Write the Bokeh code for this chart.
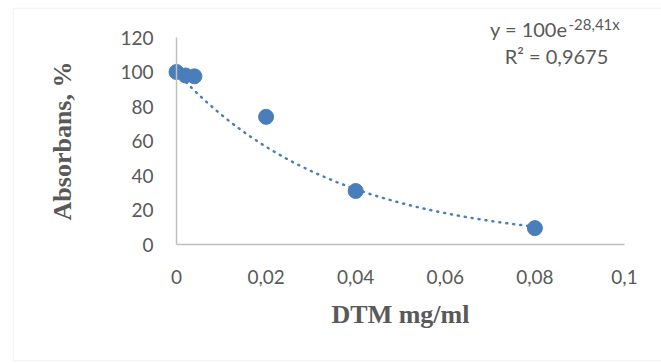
import numpy as np
from bokeh.plotting import figure
from bokeh.models import Range1d, FixedTicker, Label, BoxAnnotation
from bokeh.embed import file_html
from bokeh.resources import INLINE

# data
dtm = [0, 0.002, 0.004, 0.02, 0.04, 0.08]
absorbans = [100, 98, 97.5, 74, 31, 9.5]
x_ticks = [0, 0.02, 0.04, 0.06, 0.08, 0.1]
x_tick_labels = ["0", "0,02", "0,04", "0,06", "0,08", "0,1"]
y_ticks = [0, 20, 40, 60, 80, 100, 120]
fit_a = 100.0
fit_b = -28.41
eq_main = "y = 100e"
eq_sup = "-28,41x"
r2_text = "R² = 0,9675"

BLUE = "#4a7ebb"
GREY_TXT = "#595959"
AXIS = "#bfbfbf"

# layout geometry (pixels)
W, H = 661, 363
F_LEFT, F_TOP, F_RIGHT, F_BOTTOM = 12, 7, 661, 361     # outer chart area (frame)
X0_PX, X1_PX = 176, 624                               # plot area x=0 .. x=0.1
Y0_PX, Y1_PX = 244, 37                                # plot area y=0 .. y=120
kx = (X1_PX - X0_PX) / (x_ticks[-1] - x_ticks[0])
ky = (Y0_PX - Y1_PX) / (y_ticks[-1] - y_ticks[0])

x_start = x_ticks[0] - (X0_PX - F_LEFT) / kx
x_end = x_ticks[0] + (F_RIGHT - X0_PX) / kx
y_start = y_ticks[0] - (F_BOTTOM - Y0_PX) / ky
y_end = y_ticks[-1] + (Y1_PX - F_TOP) / ky

def dx(px):
    return x_ticks[0] + (px - X0_PX) / kx

def dy(py):
    return y_ticks[0] + (Y0_PX - py) / ky

p = figure(width=W, height=H, output_backend="svg", toolbar_location=None,
           x_range=Range1d(x_start, x_end), y_range=Range1d(y_start, y_end),
           min_border_left=F_LEFT, min_border_right=W - F_RIGHT,
           min_border_top=F_TOP, min_border_bottom=H - F_BOTTOM)
p.outline_line_color = None
p.grid.visible = False
p.background_fill_color = "white"
p.border_fill_color = "white"

# axes
for ax in (p.xaxis[0], p.yaxis[0]):
    ax.fixed_location = 0
    ax.axis_line_color = AXIS
    ax.axis_line_width = 1.5
    ax.major_tick_line_color = None
    ax.minor_tick_line_color = None
    ax.major_tick_out = 0
    ax.major_tick_in = 0
    ax.minor_tick_out = 0
    ax.major_label_text_color = GREY_TXT
    ax.major_label_text_font = "Lato"
    ax.major_label_text_font_size = "19px"
    ax.axis_label_text_color = GREY_TXT
    ax.axis_label_text_font = "Liberation Serif"
    ax.axis_label_text_font_style = "bold"
    ax.axis_label_text_font_size = "26px"

p.xaxis.bounds = (x_ticks[0], x_ticks[-1])
p.xaxis.ticker = FixedTicker(ticks=x_ticks)
p.xaxis.major_label_overrides = {t: l for t, l in zip(x_ticks, x_tick_labels)}
p.xaxis.major_label_standoff = 25
p.xaxis.axis_label = "DTM mg/ml"
p.xaxis.axis_label_standoff = 13

p.yaxis.bounds = (y_ticks[0], y_ticks[-1])
p.yaxis.ticker = FixedTicker(ticks=y_ticks)
p.yaxis.major_label_standoff = 23
p.yaxis.axis_label = "Absorbans, %"
p.yaxis.axis_label_standoff = 40

# trendline
xs = np.linspace(min(dtm), max(dtm), 200)
ys = fit_a * np.exp(fit_b * xs)
p.line(xs, ys, line_color=BLUE, line_width=2.5, line_dash="1 6", line_cap="round")

# points
p.scatter(dtm, absorbans, size=15, fill_color=BLUE, line_color=BLUE)

# equation labels
p.add_layout(Label(x=dx(567), y=dy(28), text=eq_main,
                   text_align="right", text_baseline="alphabetic",
                   text_font="Lato", text_font_size="20px", text_color=GREY_TXT))
p.add_layout(Label(x=dx(568), y=dy(23), text=eq_sup,
                   text_align="left", text_baseline="alphabetic",
                   text_font="Lato", text_font_size="15px", text_color=GREY_TXT))
p.add_layout(Label(x=dx(556), y=dy(55), text=r2_text,
                   text_align="center", text_baseline="alphabetic",
                   text_font="Lato", text_font_size="20px", text_color=GREY_TXT))

# outer chart border (left, top, bottom edges; right edge lies beyond the window)
p.add_layout(BoxAnnotation(left=dx(F_LEFT + 0.75), right=dx(F_RIGHT + 20),
                           top=dy(F_TOP + 0.75), bottom=dy(F_BOTTOM - 0.75),
                           fill_alpha=0, line_color="#d9d9d9", line_width=1.5))

open("out.html", "w").write(file_html(p, INLINE))
